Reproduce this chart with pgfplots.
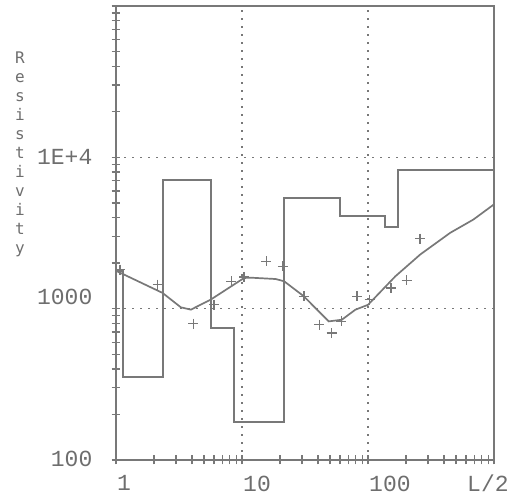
\documentclass[border=0pt]{standalone}
\usepackage{pgfplots}
\pgfplotsset{compat=1.18}
\usepackage{fontspec}
\setmainfont{Liberation Mono}
\newfontfamily\labfont{DejaVu Sans Mono}
\definecolor{ink}{RGB}{120,120,120}
\definecolor{txt}{RGB}{110,110,110}
\newcommand{\lblfont}{\fontsize{23}{23}\selectfont}
\begin{document}
\begin{tikzpicture}
\begin{axis}[
  name=ax, at={(0,0)}, anchor=south west,
  scale only axis, width=378pt, height=454pt,
  xmode=log, ymode=log,
  xmin=1, xmax=1000, ymin=100, ymax=100000,
  axis line style={ink, line width=1.6pt},
  xtick={1,10,100,1000}, xticklabels={1,10,100,{}},
  ytick={100,1000,10000,100000}, yticklabels={100,\raisebox{11pt}{1000},1E+4,{}},
  minor xtick={2,3,4,5,6,7,8,9,20,30,40,50,60,70,80,90,200,300,400,500,600,700,800,900},
  minor ytick={200,300,400,500,600,700,800,900,2000,3000,4000,5000,6000,7000,8000,9000,20000,30000,40000,50000,60000,70000,80000,90000},
  tick pos=left,
  tick align=center,
  major tick length=9pt, minor tick length=9pt,
  every tick/.style={ink, line width=1.3pt},
  grid=major,
  major grid style={ink, line width=1.6pt, dash pattern=on 1.6pt off 6.4pt},
  xticklabel style={anchor=north west, inner sep=0pt, xshift=1pt, yshift=-11pt, font=\lblfont, text=txt},
  yticklabel style={anchor=base east, inner sep=0pt, xshift=-19pt, yshift=-6.7pt, font=\lblfont, text=txt},
]
% layered model (step curve)
\addplot[ink, line width=1.7pt] coordinates {
(1,1766)(1.14,1766)(1.14,355)(2.36,355)(2.36,7080)(5.65,7080)(5.65,745)(8.65,745)
(8.65,179)(21.5,179)(21.5,5410)(59.7,5410)(59.7,4085)(137,4085)(137,3475)(173,3475)
(173,8240)(1000,8240)};
% model response curve
\addplot[ink, line width=1.7pt] coordinates {
(1,1780)(2.34,1271)(3.27,1021)(3.93,985)(5.65,1148)(10.4,1596)(12.1,1600)(18.5,1570)
(21.6,1517)(31,1206)(40.6,960)(48.8,824)(62,845)(79.5,985)(100,1060)(165,1637)
(260,2281)(449,3170)(687,3883)(1000,4890)};
% measured data
\addplot[only marks, mark=+, mark size=5pt, mark options={ink, line width=1.5pt}] coordinates {
(1.08,1811)(2.14,1442)(4.12,796)(6.0,1062)(8.25,1517)(10.4,1620)(15.6,2055)(21.1,1905)
(31,1206)(41.1,783)(51.4,690)(61.6,824)(82,1206)(103,1148)(152,1371)(203,1540)(258,2898)};
\end{axis}
\node[anchor=north, inner sep=0pt, align=center, text=txt,
      font=\labfont\fontsize{16}{19}\selectfont\setlength{\lineskiplimit}{-100pt}]
  at ([shift={(-96pt,408pt)}]ax.south west) {R\\e\\s\\i\\s\\t\\i\\v\\i\\t\\y};
\node[anchor=north west, inner sep=0pt, font=\lblfont, text=txt] at ([shift={(-27pt,-15pt)}]ax.south east) {L/2};
\pgfresetboundingbox
\path[use as bounding box] ([shift={(-116pt,-36pt)}]ax.south west) rectangle ([shift={(16pt,6pt)}]ax.north east);
\end{tikzpicture}
\end{document}
